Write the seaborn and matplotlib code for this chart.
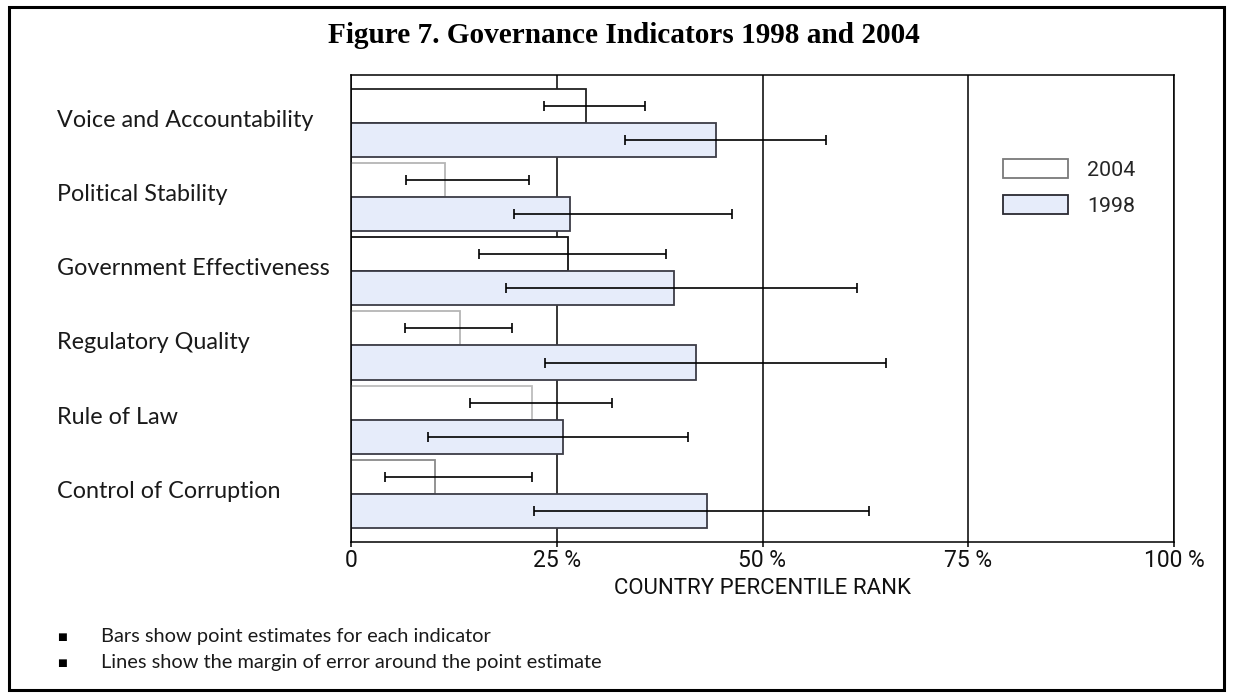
import numpy as np
import pandas as pd
import matplotlib
matplotlib.use("Agg")
import matplotlib.pyplot as plt
import seaborn as sns
from matplotlib.patches import Patch, Rectangle

# ---------------- data ----------------
indicators = ["Voice and Accountability", "Political Stability",
              "Government Effectiveness", "Regulatory Quality",
              "Rule of Law", "Control of Corruption"]
years = ["2004", "1998"]
est_2004 = [28.5, 11.4, 26.4, 13.2, 22.0, 10.2]
low_2004 = [23.4, 6.7, 15.6, 6.6, 14.4, 4.1]
high_2004 = [35.7, 21.6, 38.3, 19.6, 31.7, 22.0]
est_1998 = [44.3, 26.6, 39.3, 41.9, 25.8, 43.2]
low_1998 = [33.3, 19.8, 18.8, 23.6, 9.4, 22.2]
high_1998 = [57.7, 46.3, 61.5, 65.0, 40.9, 63.0]
x_ticks = [0, 25, 50, 75, 100]
x_tick_labels = ["0", "25 %", "50 %", "75 %", "100 %"]
title = "Figure 7. Governance Indicators 1998 and 2004"
x_label = "COUNTRY PERCENTILE RANK"
notes = ["Bars show point estimates for each indicator",
         "Lines show the margin of error around the point estimate"]

df = pd.DataFrame({
    "indicator": indicators * 2,
    "year": ["2004"] * len(indicators) + ["1998"] * len(indicators),
    "estimate": est_2004 + est_1998,
})

# ---------------- styling ----------------
sns.set_theme(style="white")
W, H = 1233, 696
fig = plt.figure(figsize=(W / 100, H / 100), dpi=100)
fig.patch.set_facecolor("white")
renderer = fig.canvas.get_renderer()

def size_for(text, target_px, family, weight="normal", ref=20.0):
    t = fig.text(0, 0, text, fontsize=ref, family=family, weight=weight)
    w = t.get_window_extent(renderer=renderer).width
    t.remove()
    return ref * target_px / w

LABEL_FONT = ["Lato", "DejaVu Sans"]
TICK_FONT = ["Roboto", "DejaVu Sans"]
TITLE_FONT = ["Liberation Serif", "DejaVu Serif"]

fs_title = size_for(title, 592, TITLE_FONT, "bold")
fs_cat = size_for(indicators[0], 256, LABEL_FONT)
fs_note = size_for(notes[0], 392, LABEL_FONT)
fs_xlab = size_for(x_label, 297, TICK_FONT)
fs_tick = size_for("100 %", 61, TICK_FONT)
fs_leg = size_for("2004", 48, TICK_FONT)

ax_left, ax_right, ax_top, ax_bottom = 351, 1174, 75, 542
ax = fig.add_axes([ax_left / W, 1 - ax_bottom / H,
                   (ax_right - ax_left) / W, (ax_bottom - ax_top) / H])

colors = {"2004": "#FFFFFF", "1998": "#E6ECFA"}
sns.barplot(data=df, y="indicator", x="estimate", hue="year",
            order=indicators, hue_order=years, palette=colors,
            orient="h", width=0.92, gap=0, errorbar=None, legend=False,
            linewidth=1.3, edgecolor="#3c3c46", saturation=1, ax=ax)

edge_2004 = ["#222222", "#b5b5b5", "#111111", "#b5b5b5", "#bdbdbd", "#8a8a8a"]

bars_2004, bars_1998 = [], []
for p in ax.patches:
    fc = p.get_facecolor()
    if fc[0] > 0.99 and fc[1] > 0.99 and fc[2] > 0.99:
        bars_2004.append(p)
    else:
        bars_1998.append(p)
bars_2004.sort(key=lambda p: p.get_y())
bars_1998.sort(key=lambda p: p.get_y())
for p, ec in zip(bars_2004, edge_2004):
    p.set_edgecolor(ec)
    p.set_zorder(2)
for p in bars_1998:
    p.set_edgecolor("#3c3c46")
    p.set_zorder(2)

# error bars (margin of error)
for bars, est, lo, hi in [(bars_2004, est_2004, low_2004, high_2004),
                          (bars_1998, est_1998, low_1998, high_1998)]:
    yc = [p.get_y() + p.get_height() / 2 for p in bars]
    est_a, lo_a, hi_a = np.array(est), np.array(lo), np.array(hi)
    ax.errorbar(est_a, yc, xerr=[est_a - lo_a, hi_a - est_a], fmt="none",
                ecolor="black", elinewidth=1.2, capsize=3.5, capthick=1.2,
                zorder=4)

# axes ranges
px_per_unit = 74.26
c0 = 122.7
ax.set_ylim((ax_bottom - c0) / px_per_unit, (ax_top - c0) / px_per_unit)
ax.set_xlim(0, 100)

# grid & spines
ax.set_axisbelow(True)
ax.xaxis.grid(True, color="black", linewidth=1.1)
ax.yaxis.grid(False)
for s in ax.spines.values():
    s.set_color("black")
    s.set_linewidth(1.1)
    s.set_visible(True)

# x ticks
ax.set_xticks(x_ticks)
ax.set_xticklabels(x_tick_labels, family=TICK_FONT, fontsize=fs_tick, color="#111111")
ax.tick_params(axis="x", which="major", bottom=True, length=3.5, width=1.1,
               color="black", pad=1.5, direction="out")
ax.set_xlabel(x_label, family=TICK_FONT, fontsize=fs_xlab, color="#111111", va="center")
ax.xaxis.set_label_coords(0.5, -(589 - ax_bottom) / (ax_bottom - ax_top))

# y tick labels (left aligned category names)
ax.set_yticks(np.arange(len(indicators)) + 4 / px_per_unit)
ax.set_yticklabels(indicators, family=LABEL_FONT, fontsize=fs_cat, color="#1a1a1a")
ax.tick_params(axis="y", length=0, pad=(ax_left - 57) * 0.72)
for lab in ax.get_yticklabels():
    lab.set_ha("left")
    lab.set_va("baseline")
ax.set_ylabel("")

# legend
fs_px = fs_leg * 100 / 72
row_h = max(1.17 * fs_px, 20)
handles = [Patch(facecolor="white", edgecolor="#7a7a7a", linewidth=1.3, label="2004"),
           Patch(facecolor="#E6ECFA", edgecolor="#2a2a32", linewidth=1.3, label="1998")]
ax.legend(handles=handles, loc="upper left",
          bbox_to_anchor=(1003 / W, 1 - (172 - row_h / 2) / H),
          bbox_transform=fig.transFigure, frameon=False, borderpad=0,
          borderaxespad=0, prop={"family": TICK_FONT, "size": fs_leg},
          handlelength=65 / fs_px, handleheight=21 / fs_px,
          handletextpad=19 / fs_px, labelspacing=(40 - row_h) / fs_px)

# title
fig.text(624 / W, 1 - 43 / H, title, ha="center", va="baseline",
         family=TITLE_FONT, weight="bold", fontsize=fs_title, color="black")

# notes
for i, note in enumerate(notes):
    yb = 642 + 26 * i
    fig.text(62 / W, 1 - (yb - 5) / H, "\u25a0", ha="center", va="center",
             family="DejaVu Sans", fontsize=7.5, color="black")
    fig.text(101 / W, 1 - yb / H, note, ha="left", va="baseline",
             family=LABEL_FONT, fontsize=fs_note, color="#1a1a1a")

# outer frame
fig.add_artist(Rectangle((8.5 / W, (H - 689.5) / H), (1223.5 - 8.5) / W,
                         (689.5 - 6.5) / H, transform=fig.transFigure,
                         fill=False, edgecolor="black", linewidth=2.2))

fig.savefig("out.png", dpi=100)
